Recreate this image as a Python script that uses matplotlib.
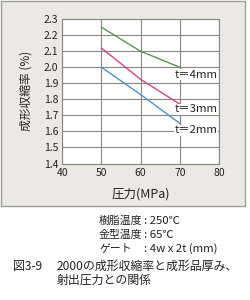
import matplotlib.pyplot as plt
from matplotlib.patches import Rectangle

plt.rcParams['font.family'] = ['Noto Sans CJK JP', 'DejaVu Sans']

# data
pressure = [50, 60, 70]
shrink_4mm = [2.25, 2.10, 2.00]
shrink_3mm = [2.12, 1.925, 1.77]
shrink_2mm = [2.00, 1.83, 1.65]
labels = ['t＝4mm', 't＝3mm', 't＝2mm']
label_y = [1.955, 1.737, 1.606]

xticks = [40, 50, 60, 70, 80]
yticks = [1.4, 1.5, 1.6, 1.7, 1.8, 1.9, 2.0, 2.1, 2.2, 2.3]

fig = plt.figure(figsize=(2.5, 3.0), dpi=100)
fig.patch.set_facecolor('white')

# grey panel behind the chart
fig.patches.append(Rectangle((0.004, 0.313), 0.976, 0.685, transform=fig.transFigure,
                             facecolor='#ebe9e6', edgecolor='#a09d98', linewidth=1.0, zorder=-5))

ax = fig.add_axes([0.249, 0.455, 0.627, 0.481])
ax.set_facecolor('white')

ax.plot(pressure, shrink_4mm, color='#5f9156', linewidth=1.0)
ax.plot(pressure, shrink_3mm, color='#d2448a', linewidth=1.0)
ax.plot(pressure, shrink_2mm, color='#4a90d0', linewidth=1.0)

for lab, yy in zip(labels, label_y):
    ax.text(68.6, yy, lab, fontsize=8.2, va='center', ha='left', color='#222222',
            bbox=dict(facecolor='white', edgecolor='none', pad=0.3))

ax.set_xlim(40, 80)
ax.set_ylim(1.4, 2.3)
ax.set_xticks(xticks)
ax.set_yticks(yticks)
ax.set_yticklabels(['%.1f' % v for v in yticks])
ax.tick_params(length=0, labelsize=7.5, colors='#222222', pad=3)
ax.grid(True, color='#8a8580', linewidth=0.8)
for s in ax.spines.values():
    s.set_color('#8a8580')
    s.set_linewidth(0.8)

ax.set_xlabel('圧力(MPa)', fontsize=9, labelpad=7, color='#222222')
ax.set_ylabel('成形収縮率 (%)', fontsize=8.5, labelpad=8, color='#222222')

# conditions under the chart
cond_y = [0.263, 0.217, 0.170]
cond_lab = ['樹脂温度', '金型温度', 'ゲート']
cond_val = [': 250℃', ': 65℃', ': 4w x 2t (mm)']
for lab, val, yy in zip(cond_lab, cond_val, cond_y):
    fig.text(0.396, yy, lab, fontsize=7.8, va='center', color='#222222')
    fig.text(0.574, yy, val, fontsize=8.2, va='center', color='#222222')

fig.text(0.05, 0.113, '図3-9', fontsize=8.6, va='center', color='#222222')
fig.text(0.226, 0.113, '2000の成形収縮率と成形品厚み、', fontsize=8.6, va='center', color='#222222')
fig.text(0.226, 0.067, '射出圧力との関係', fontsize=8.6, va='center', color='#222222')

fig.savefig('out.png', dpi=100)
